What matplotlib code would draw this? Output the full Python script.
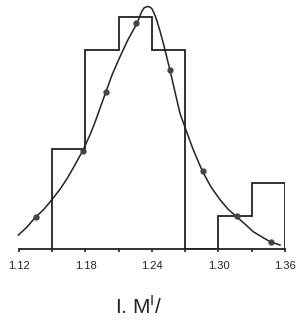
import numpy as np
import matplotlib.pyplot as plt

plt.rcParams['font.family'] = ['Liberation Sans', 'DejaVu Sans']
plt.rcParams['mathtext.fontset'] = 'custom'
plt.rcParams['mathtext.rm'] = 'Liberation Sans'

###### data

bin_edges = [1.15, 1.18, 1.21, 1.24, 1.27, 1.30, 1.33, 1.36]
counts = [3, 6, 7, 6, 0, 1, 2]

pts_x = [1.1353, 1.1775, 1.1985, 1.2256, 1.2562, 1.2858, 1.3164, 1.3471]
pts_y = [0.95, 2.96, 4.72, 6.80, 5.39, 2.35, 0.99, 0.22]

# fitted curve, traced point by point
curve_x = [1.1194, 1.1272, 1.1344, 1.1426, 1.1500, 1.1570, 1.1630, 1.1696,
           1.1778, 1.1841, 1.1886, 1.1976, 1.2039, 1.2111, 1.2184, 1.2262,
           1.2307, 1.2328, 1.2352, 1.2373, 1.2397, 1.2418, 1.2442, 1.2472,
           1.2502, 1.2562, 1.2652, 1.2707, 1.2773, 1.2854, 1.2932, 1.3015,
           1.3086, 1.3164, 1.3239, 1.3314, 1.3393, 1.3465, 1.3555]
curve_y = [0.42, 0.66, 0.94, 1.20, 1.50, 1.80, 2.10, 2.48,
           2.98, 3.44, 3.82, 4.66, 5.24, 5.79, 6.31, 6.78,
           7.15, 7.26, 7.30, 7.30, 7.25, 7.11, 6.90, 6.57,
           6.20, 5.39, 4.09, 3.58, 2.98, 2.35, 1.87, 1.48,
           1.20, 0.97, 0.75, 0.52, 0.36, 0.22, 0.12]

major = [1.12, 1.18, 1.24, 1.30, 1.36]
minor = [1.15, 1.21, 1.27, 1.33]
labels = ['1.12', '1.18', '1.24', '1.30', '1.36']


def main():
    fig = plt.figure(figsize=(3.07, 3.29), dpi=100)
    ax = fig.add_axes([0.0619, 0.2432, 0.8664, 0.7568])

    ax.stairs(counts, bin_edges, baseline=0, color='#222222', lw=1.3)
    ax.plot(curve_x, curve_y, color='#222222', lw=1.1, clip_on=False)
    ax.plot(pts_x, pts_y, 'o', color='#444444', ms=3.5, clip_on=False)

    ax.set_xlim(1.12, 1.36)
    ax.set_ylim(0, 7.5)
    for s in ['top', 'right', 'left']:
        ax.spines[s].set_visible(False)
    ax.spines['bottom'].set_linewidth(1.3)
    ax.spines['bottom'].set_color('#222222')
    ax.set_yticks([])
    ax.set_xticks(major)
    ax.set_xticklabels(labels)
    ax.set_xticks(minor, minor=True)
    ax.tick_params(axis='x', which='both', direction='out', length=2.5,
                   width=1.2, color='#222222', pad=6, labelsize=8,
                   labelcolor='#222222')

    fig.text(139/307, 1 - 306/329, r'I. M$^{\rm I}$/', fontsize=15,
             ha='center', va='center', color='#222222')

    fig.savefig('out.png', dpi=100)


if __name__ == "__main__":
    main()
